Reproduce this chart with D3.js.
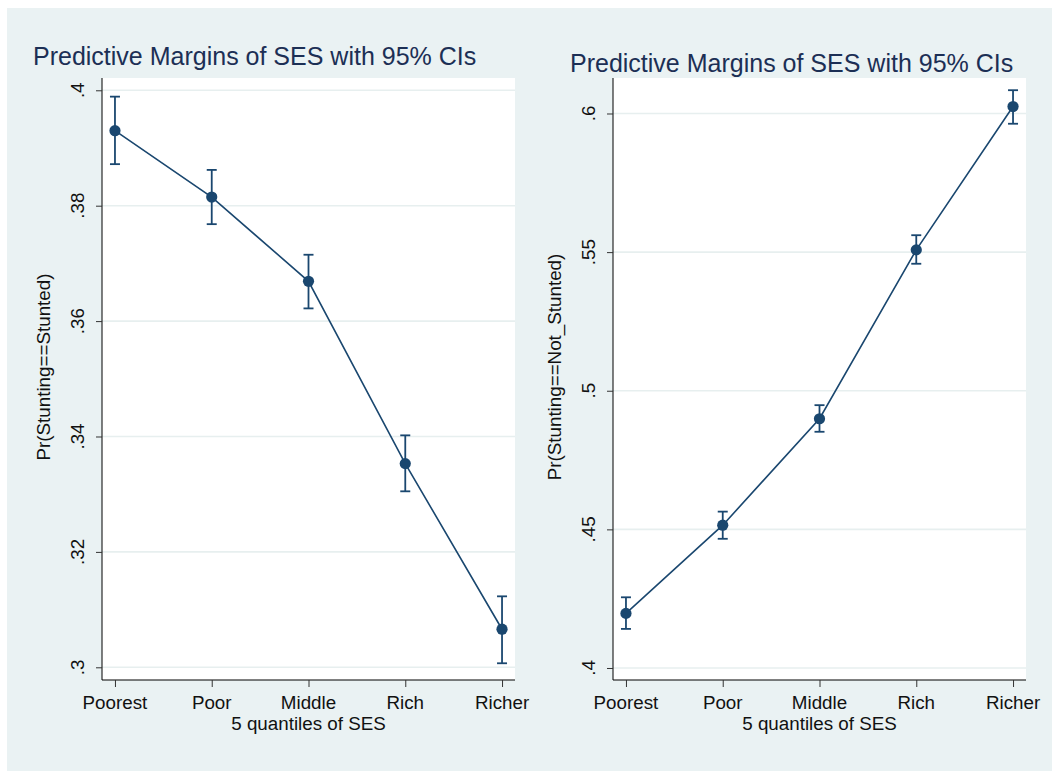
<!DOCTYPE html>
<head>
  <meta charset="utf-8">

<style>

body{
  margin: 0;
  background-color: white;
}

  text{
    font-family: "Liberation Sans", Arial, sans-serif;
    fill: #111;
  }

  .title{
    font-size: 25px;
    fill: #1c2f55;
  }

  .tick-label{
    font-size: 18.8px;
  }

  .axis-title{
    font-size: 18.8px;
  }

  .grid{
    stroke: #e7efef;
    stroke-width: 1.6px;
  }

  .margin-line{
    fill: none;
    stroke: #1a476f;
    stroke-width: 1.6px;
  }

  .ci{
    stroke: #1a476f;
    stroke-width: 1.8px;
  }

</style>
  
</head>

<body>
  <svg width="1052" height="771"></svg>
</body>

<script src="https://d3js.org/d3.v7.min.js"></script>

<script>

// data
var categories = ["Poorest", "Poor", "Middle", "Rich", "Richer"];

var stuntedMargin = [0.3930, 0.3815, 0.3669, 0.3353, 0.3066];
var stuntedLo     = [0.3872, 0.3768, 0.3622, 0.3305, 0.3007];
var stuntedHi     = [0.3989, 0.3862, 0.3715, 0.3402, 0.3123];

var notStuntedMargin = [0.4197, 0.4515, 0.4899, 0.5508, 0.6025];
var notStuntedLo     = [0.4141, 0.4466, 0.4852, 0.5458, 0.5963];
var notStuntedHi     = [0.4255, 0.4564, 0.4948, 0.5561, 0.6084];

var stuntedTicks = [0.3, 0.32, 0.34, 0.36, 0.38, 0.4];
var notStuntedTicks = [0.4, 0.45, 0.5, 0.55, 0.6];

var titleText = "Predictive Margins of SES with 95% CIs";
var xTitle = "5 quantiles of SES";


var svg = d3.select("svg"),
    width = +svg.attr("width"),
    height = +svg.attr("height");

// graph background
svg.append("rect")
  .attr("x", 7)
  .attr("y", 8)
  .attr("width", width - 7)
  .attr("height", height - 8)
  .attr("fill", "#eaf2f3");

// stata style labels: .38 not 0.38
function stataFmt(v) {
  return d3.format("~g")(v).replace(/^0\./, ".");
}

function drawPanel(opt) {
  var g = svg.append("g");

  var x = d3.scaleLinear()
    .domain([0.866, 5.134])
    .range([opt.left, opt.right]);

  var y = d3.scaleLinear()
    .domain(opt.yDomain)
    .range([opt.bottom, opt.top]);

  // plot region
  g.append("rect")
    .attr("x", opt.left)
    .attr("y", opt.top)
    .attr("width", opt.right - opt.left)
    .attr("height", opt.bottom - opt.top)
    .attr("fill", "white");

  g.selectAll(".grid")
    .data(opt.ticks)
    .enter().append("line")
    .attr("class", "grid")
    .attr("x1", opt.left)
    .attr("x2", opt.right)
    .attr("y1", d => y(d))
    .attr("y2", d => y(d));

  // y axis
  var yAxis = d3.axisLeft(y)
    .tickValues(opt.ticks)
    .tickSize(6)
    .tickFormat("");

  var ya = g.append("g")
    .attr("transform", "translate(" + opt.left + ",0)")
    .call(yAxis);
  ya.select(".domain").attr("d", "M0," + opt.top + "V" + opt.bottom).attr("stroke", "#000");
  ya.selectAll(".tick line").attr("stroke", "#333");

  g.selectAll(".ylab")
    .data(opt.ticks)
    .enter().append("text")
    .attr("class", "tick-label")
    .attr("text-anchor", "middle")
    .attr("transform", d => "translate(" + (opt.left - 18) + "," + y(d) + ") rotate(-90)")
    .text(stataFmt);

  // x axis
  var xAxis = d3.axisBottom(x)
    .tickValues(d3.range(1, categories.length + 1))
    .tickSize(7)
    .tickFormat("");

  var xa = g.append("g")
    .attr("transform", "translate(0," + opt.bottom + ")")
    .call(xAxis);
  xa.select(".domain").attr("d", "M" + opt.left + ",0H" + opt.right).attr("stroke", "#000");
  xa.selectAll(".tick line").attr("stroke", "#333");

  g.selectAll(".xlab")
    .data(categories)
    .enter().append("text")
    .attr("class", "tick-label")
    .attr("text-anchor", "middle")
    .attr("x", (d, i) => x(i + 1))
    .attr("y", opt.bottom + 29)
    .text(d => d);

  g.append("text")
    .attr("class", "axis-title")
    .attr("text-anchor", "middle")
    .attr("x", (opt.left + opt.right) / 2)
    .attr("y", opt.bottom + 50)
    .text(xTitle);

  g.append("text")
    .attr("class", "axis-title")
    .attr("text-anchor", "middle")
    .attr("transform", "translate(" + (opt.left - 52) + "," + ((opt.top + opt.bottom) / 2 - 12) + ") rotate(-90)")
    .text(opt.yTitle);

  g.append("text")
    .attr("class", "title")
    .attr("x", opt.titleX)
    .attr("y", opt.titleY)
    .text(titleText);

  // the connected margins
  var line = d3.line()
    .x((d, i) => x(i + 1))
    .y(d => y(d));

  g.append("path")
    .attr("class", "margin-line")
    .attr("d", line(opt.margin));

  // CI bars
  var ci = g.selectAll(".cibar")
    .data(opt.margin)
    .enter().append("g");

  ci.append("line")
    .attr("class", "ci")
    .attr("x1", (d, i) => x(i + 1))
    .attr("x2", (d, i) => x(i + 1))
    .attr("y1", (d, i) => y(opt.lo[i]))
    .attr("y2", (d, i) => y(opt.hi[i]));

  ci.append("line")
    .attr("class", "ci")
    .attr("x1", (d, i) => x(i + 1) - 5)
    .attr("x2", (d, i) => x(i + 1) + 5)
    .attr("y1", (d, i) => y(opt.lo[i]))
    .attr("y2", (d, i) => y(opt.lo[i]));

  ci.append("line")
    .attr("class", "ci")
    .attr("x1", (d, i) => x(i + 1) - 5)
    .attr("x2", (d, i) => x(i + 1) + 5)
    .attr("y1", (d, i) => y(opt.hi[i]))
    .attr("y2", (d, i) => y(opt.hi[i]));

  g.selectAll(".pt")
    .data(opt.margin)
    .enter().append("circle")
    .attr("cx", (d, i) => x(i + 1))
    .attr("cy", d => y(d))
    .attr("r", 5.6)
    .attr("fill", "#1a476f");
}

drawPanel({
  left: 102, right: 515, top: 78, bottom: 680,
  yDomain: [0.2978, 0.40213],
  ticks: stuntedTicks,
  margin: stuntedMargin, lo: stuntedLo, hi: stuntedHi,
  yTitle: "Pr(Stunting==Stunted)",
  titleX: 33, titleY: 65
});

drawPanel({
  left: 613, right: 1026, top: 78, bottom: 680,
  yDomain: [0.39567, 0.6128],
  ticks: notStuntedTicks,
  margin: notStuntedMargin, lo: notStuntedLo, hi: notStuntedHi,
  yTitle: "Pr(Stunting==Not_Stunted)",
  titleX: 570, titleY: 72
});

</script>
